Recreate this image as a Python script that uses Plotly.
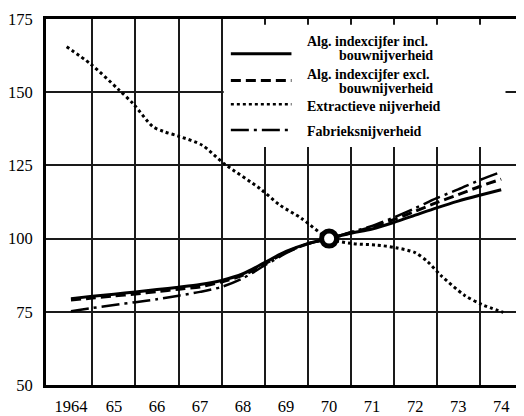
import plotly.graph_objects as go

# Index values (1970 = 100)
years = [64, 64.5, 65, 65.5, 66, 66.5, 67, 67.5, 68, 68.5, 69, 69.5, 70,
         70.5, 71, 71.5, 72, 72.5, 73, 73.5, 74]
incl_bouw = [79.5, 80.3, 81.0, 81.8, 82.6, 83.4, 84.3, 85.7, 88.0, 91.8, 95.6, 98.3, 100.0,
             101.8, 103.3, 105.5, 108.0, 110.5, 112.8, 114.8, 116.7]
excl_bouw = [79.0, 79.7, 80.4, 81.1, 81.9, 82.7, 83.5, 85.2, 87.5, 91.3, 95.3, 98.2, 100.0,
             102.0, 104.0, 106.5, 109.3, 112.3, 115.0, 117.8, 120.3]
fabrieks = [75.2, 76.3, 77.3, 78.3, 79.3, 80.5, 81.8, 83.5, 86.5, 90.8, 95.0, 98.2, 100.0,
            102.2, 104.3, 107.2, 110.4, 113.8, 116.8, 120.0, 122.8]

extr_years = [63.9, 64.45, 65.1, 65.45, 65.9, 66.15, 66.5, 67.05, 67.55, 68.4, 68.85, 69.35, 70.0,
              70.55, 71.1, 71.55, 72.0, 72.3, 72.6, 73.15, 73.55, 74.05]
extractieve = [165.5, 159.7, 151.0, 146.0, 138.3, 136.6, 135.0, 131.9, 125.7, 117.0, 111.5, 107.0, 100.0,
               98.3, 97.8, 96.9, 95.2, 92.0, 87.4, 80.6, 77.5, 74.8]

tick_years = [64, 65, 66, 67, 68, 69, 70, 71, 72, 73, 74]
tick_labels = ['1964', '65', '66', '67', '68', '69', '70', '71', '72', '73', '74']
grid_years = [64.5, 65.5, 66.5, 67.5, 68.5, 69.5, 70.5, 71.5, 72.5, 73.5]

legend_items = [
    ('Alg. indexcijfer incl.', 'bouwnijverheid', 'solid', 3),
    ('Alg. indexcijfer excl.', 'bouwnijverheid', '10px,5px', 3),
    ('Extractieve nijverheid', None, '3px,3px', 2.5),
    ('Fabrieksnijverheid', None, '18px,5px,3px,5px', 2.5),
]

SERIF = 'Liberation Serif'

fig = go.Figure()

fig.add_trace(go.Scatter(x=extr_years, y=extractieve, mode='lines',
                         line=dict(color='black', width=3, dash='3px,3px', shape='spline', smoothing=0.8)))
fig.add_trace(go.Scatter(x=years, y=fabrieks, mode='lines',
                         line=dict(color='black', width=2.5, dash='18px,5px,3px,5px', shape='spline', smoothing=0.8)))
fig.add_trace(go.Scatter(x=years, y=excl_bouw, mode='lines',
                         line=dict(color='black', width=3, dash='10px,5px', shape='spline', smoothing=0.8)))
fig.add_trace(go.Scatter(x=years, y=incl_bouw, mode='lines',
                         line=dict(color='black', width=3, shape='spline', smoothing=0.8)))
# base year marker
fig.add_trace(go.Scatter(x=[70], y=[100], mode='markers',
                         marker=dict(symbol='circle', size=15, color='white',
                                     line=dict(color='black', width=5))))

# white box behind the legend (hides the grid there)
shapes = [dict(type='rect', xref='x', yref='y', x0=67.55, x1=74.1, y0=131.3, y1=173,
               fillcolor='white', line=dict(width=0), layer='above')]

annotations = []
# legend rows, positions in page pixels (plot area 43..524 x 19..388)
row_y = [54, 81, 105, 131]
text_y = [(42, 56), (75, 89), (107, None), (132, None)]
W, H, L, B = 481, 369, 43, 388
for (t1, t2, dash, w), ly, (ty1, ty2) in zip(legend_items, row_y, text_y):
    shapes.append(dict(type='line', xref='paper', yref='paper',
                       x0=(229 - L) / W, x1=(290 - L) / W, y0=(B - ly) / H, y1=(B - ly) / H,
                       line=dict(color='black', width=w, dash=dash), layer='above'))
    annotations.append(dict(text='<b>%s</b>' % t1, xref='paper', yref='paper',
                            x=(304 - L) / W, y=(B - ty1) / H, xanchor='left', yanchor='middle',
                            showarrow=False, font=dict(family=SERIF, size=14, color='black')))
    if t2:
        annotations.append(dict(text='<b>%s</b>' % t2, xref='paper', yref='paper',
                                x=(336 - L) / W, y=(B - ty2) / H, xanchor='left', yanchor='middle',
                                showarrow=False, font=dict(family=SERIF, size=14, color='black')))

# the page body has an 8px margin, so the figure is 8px smaller each way
fig.update_layout(
    width=516, height=408,
    margin=dict(l=35, r=0, t=11, b=28),
    paper_bgcolor='white', plot_bgcolor='white',
    showlegend=False,
    shapes=shapes,
    annotations=annotations,
    font=dict(family=SERIF, color='black'),
    xaxis=dict(range=[63.42, 74.53], tickvals=tick_years, ticktext=tick_labels,
               showgrid=False, zeroline=False,
               showline=True, linecolor='black', linewidth=3, mirror=True,
               ticks='', ticklabelstandoff=4, tickfont=dict(family=SERIF, size=16.5)),
    yaxis=dict(range=[50, 175], tickvals=[50, 75, 100, 125, 150, 175],
               showgrid=True, gridcolor='#1a1a1a', gridwidth=1.5, zeroline=False,
               showline=True, linecolor='black', linewidth=3,
               ticks='', ticklabelstandoff=7, tickfont=dict(family=SERIF, size=16.5)),
)
fig.update_xaxes(minor=dict(tickvals=grid_years, showgrid=True, gridcolor='#1a1a1a', gridwidth=1.5))

fig.write_html("out.html")
